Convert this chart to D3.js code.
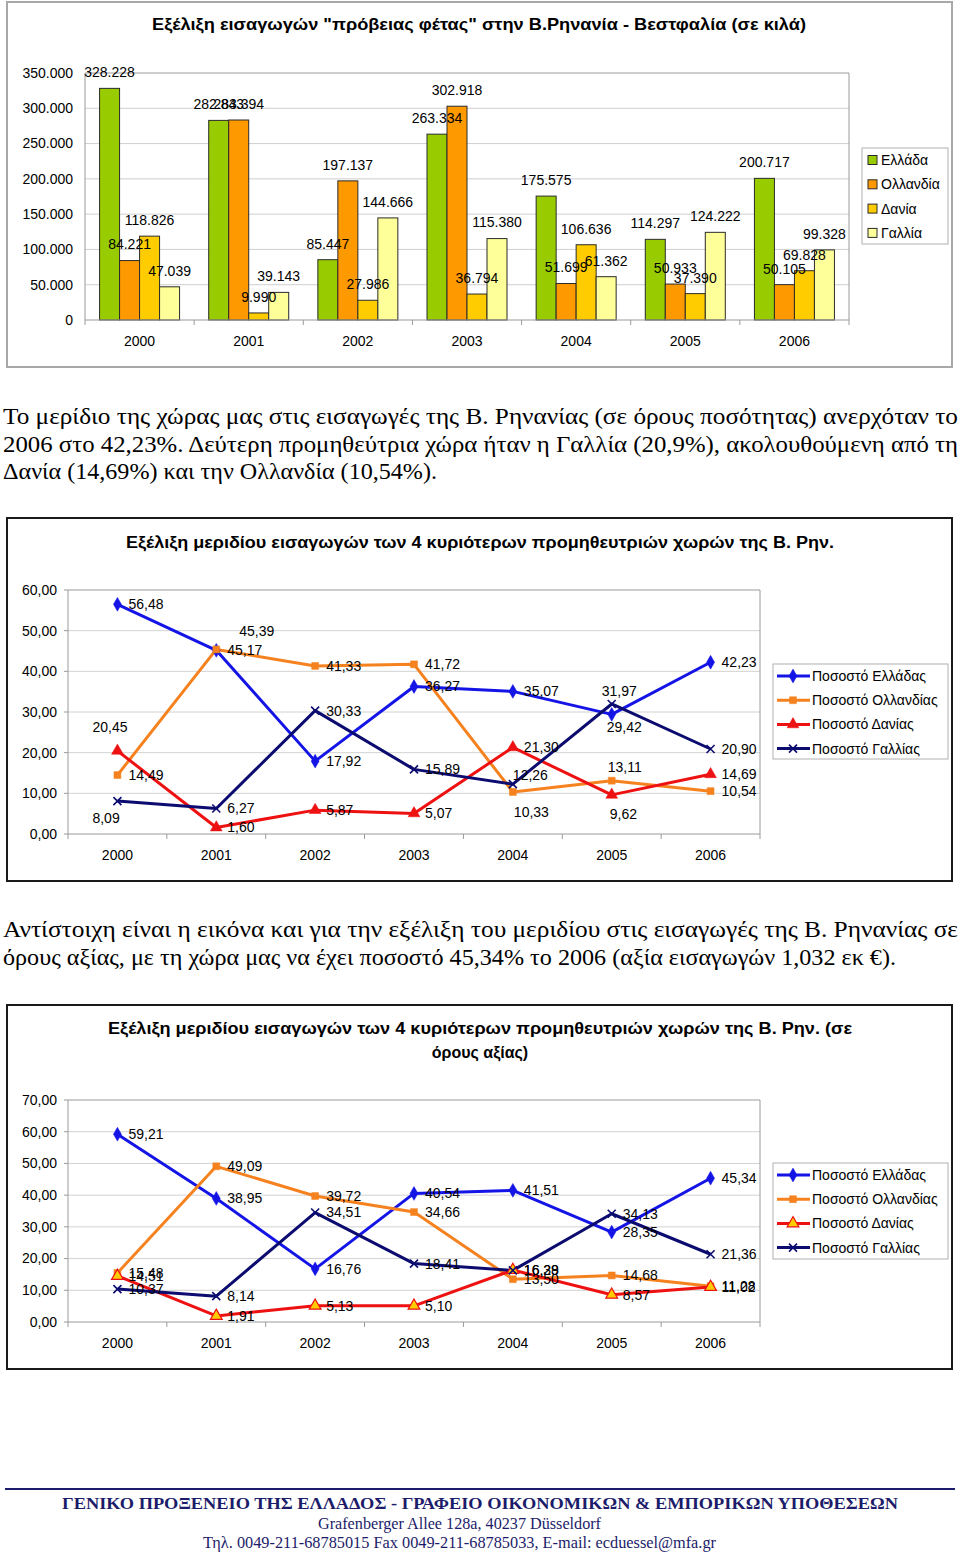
<!DOCTYPE html>
<html><head><meta charset="utf-8">
<script src="https://cdn.jsdelivr.net/npm/d3@7"></script>
<style>body{margin:0;background:#fff}svg{display:block}</style>
</head><body>
<svg id="page" width="960" height="1557"></svg>
<script>
// ---------- DATA ----------
const years = ["2000","2001","2002","2003","2004","2005","2006"];

// Chart 1: imports in kg
const barSeries = ["Ελλάδα","Ολλανδία","Δανία","Γαλλία"];
const kgGreece      = [328228, 282843, 85447, 263334, 175575, 114297, 200717];
const kgNetherlands = [84221, 283394, 197137, 302918, 51699, 50933, 50105];
const kgDenmark     = [118826, 9990, 27986, 36794, 106636, 37390, 69828];
const kgFrance      = [47039, 39143, 144666, 115380, 61362, 124222, 99328];
const kgTicks = [0, 50000, 100000, 150000, 200000, 250000, 300000, 350000];

// Chart 2: share by quantity (%)
const lineSeries = ["Ποσοστό Ελλάδας","Ποσοστό Ολλανδίας","Ποσοστό Δανίας","Ποσοστό Γαλλίας"];
const qtyGreece      = [56.48, 45.17, 17.92, 36.27, 35.07, 29.42, 42.23];
const qtyNetherlands = [14.49, 45.39, 41.33, 41.72, 10.33, 13.11, 10.54];
const qtyDenmark     = [20.45, 1.60, 5.87, 5.07, 21.30, 9.62, 14.69];
const qtyFrance      = [8.09, 6.27, 30.33, 15.89, 12.26, 31.97, 20.90];
const qtyTicks = [0, 10, 20, 30, 40, 50, 60];

// Chart 3: share by value (%)
const valGreece      = [59.21, 38.95, 16.76, 40.54, 41.51, 28.35, 45.34];
const valNetherlands = [15.48, 49.09, 39.72, 34.66, 13.50, 14.68, 11.28];
const valDenmark     = [14.51, 1.91, 5.13, 5.10, 16.39, 8.57, 11.02];
const valFrance      = [10.37, 8.14, 34.51, 18.41, 16.28, 34.13, 21.36];
const valTicks = [0, 10, 20, 30, 40, 50, 60, 70];

// Texts
const title1 = "Εξέλιξη εισαγωγών \"πρόβειας φέτας\" στην Β.Ρηνανία - Βεστφαλία (σε κιλά)";
const title2 = "Εξέλιξη μεριδίου εισαγωγών των 4 κυριότερων προμηθευτριών χωρών της Β. Ρην.";
const title3 = ["Εξέλιξη μεριδίου εισαγωγών των 4 κυριότερων προμηθευτριών χωρών της Β. Ρην. (σε", "όρους αξίας)"];
const para1 = ["Το μερίδιο της χώρας μας στις εισαγωγές της Β. Ρηνανίας (σε όρους ποσότητας) ανερχόταν το",
  "2006 στο 42,23%. Δεύτερη προμηθεύτρια χώρα ήταν η Γαλλία (20,9%), ακολουθούμενη από τη",
  "Δανία (14,69%) και την Ολλανδία (10,54%)."];
const para2 = ["Αντίστοιχη είναι η εικόνα και για την εξέλιξη του μεριδίου στις εισαγωγές της Β. Ρηνανίας σε",
  "όρους αξίας, με τη χώρα μας να έχει ποσοστό 45,34% το 2006 (αξία εισαγωγών 1,032 εκ €)."];
const footer = ["ΓΕΝΙΚΟ ΠΡΟΞΕΝΕΙΟ ΤΗΣ ΕΛΛΑΔΟΣ - ΓΡΑΦΕΙΟ ΟΙΚΟΝΟΜΙΚΩΝ &  ΕΜΠΟΡΙΚΩΝ ΥΠΟΘΕΣΕΩΝ",
  "Grafenberger Allee 128a, 40237 Düsseldorf",
  "Τηλ. 0049-211-68785015  Fax 0049-211-68785033, E-mail: ecduessel@mfa.gr"];

// ---------- STYLE ----------
const SANS = "'Liberation Sans', Arial, sans-serif";
const SERIF = "'Liberation Serif', 'Times New Roman', serif";
const barColors = ["#99cc00", "#ff9900", "#ffcc00", "#ffff99"];
const lineColors = ["#1414e6", "#f5821f", "#ee1111", "#0c0c70"];
const loc = d3.formatLocale({decimal: ",", thousands: ".", grouping: [3], currency: ["", "€"]});
const fmtKg = loc.format(",d");
const fmtPct = loc.format(".2f");

const svg = d3.select("#page");

function fitText(sel, w) {
  sel.attr("textLength", w).attr("lengthAdjust", "spacingAndGlyphs");
}

// ---------- CHART 1 ----------
(function() {
  const g = svg.append("g");
  g.append("rect").attr("x", 7).attr("y", 2).attr("width", 945).attr("height", 365)
    .attr("fill", "#fff").attr("stroke", "#a8a8a8").attr("stroke-width", 2);
  const t = g.append("text").attr("x", 479).attr("y", 30).attr("text-anchor", "middle")
    .attr("font-family", SANS).attr("font-weight", "bold").attr("font-size", 17).text(title1);
  fitText(t, 654);

  const L = 85, R = 849, T = 73, B = 320;
  const x0 = d3.scaleBand().domain(years).range([L, R]);
  const inner = 80;
  const x1 = d3.scaleBand().domain(barSeries).range([0, inner]);
  const y = d3.scaleLinear().domain([0, 350000]).range([B, T]);
  const series = [kgGreece, kgNetherlands, kgDenmark, kgFrance];

  // gridlines
  g.selectAll(".grid").data(kgTicks.slice(1)).join("line")
    .attr("x1", L).attr("x2", R).attr("y1", d => y(d)).attr("y2", d => y(d))
    .attr("stroke", (d, i) => d === 350000 ? "#9a9a9a" : "#cfcfcf").attr("stroke-width", 1);
  g.append("line").attr("x1", R).attr("x2", R).attr("y1", T).attr("y2", B).attr("stroke", "#9a9a9a");
  g.append("line").attr("x1", L).attr("x2", L).attr("y1", T).attr("y2", B).attr("stroke", "#9a9a9a");

  // y axis labels
  g.selectAll(".yl").data(kgTicks).join("text")
    .attr("x", 73).attr("y", d => y(d)).attr("dy", "0.35em").attr("text-anchor", "end")
    .attr("font-family", SANS).attr("font-size", 14).text(d => fmtKg(d));

  // bars
  const off = (x0.bandwidth() - inner) / 2;
  series.forEach((vals, si) => {
    g.selectAll(".b" + si).data(vals).join("rect")
      .attr("x", (d, i) => x0(years[i]) + off + x1(barSeries[si]))
      .attr("width", x1.bandwidth())
      .attr("y", d => y(d)).attr("height", d => B - y(d))
      .attr("fill", barColors[si]).attr("stroke", "#2a2a2a").attr("stroke-width", 1);
  });
  series.forEach((vals, si) => {
    g.selectAll(".l" + si).data(vals).join("text")
      .attr("x", (d, i) => x0(years[i]) + off + x1(barSeries[si]) + x1.bandwidth() / 2)
      .attr("y", d => y(d) - 16).attr("dy", "0.35em").attr("text-anchor", "middle")
      .attr("font-family", SANS).attr("font-size", 14).text(d => fmtKg(d));
  });

  // x axis
  g.append("line").attr("x1", L).attr("x2", R).attr("y1", B).attr("y2", B).attr("stroke", "#9a9a9a");
  const bounds = years.map(d => x0(d)).concat([R]);
  g.selectAll(".xt").data(bounds).join("line")
    .attr("x1", d => d).attr("x2", d => d).attr("y1", B).attr("y2", B + 5).attr("stroke", "#9a9a9a");
  g.selectAll(".xl").data(years).join("text")
    .attr("x", d => x0(d) + x0.bandwidth() / 2).attr("y", 341).attr("dy", "0.35em")
    .attr("text-anchor", "middle").attr("font-family", SANS).attr("font-size", 14).text(d => d);

  // legend
  g.append("rect").attr("x", 862).attr("y", 148).attr("width", 86).attr("height", 96)
    .attr("fill", "#fff").attr("stroke", "#b0b0b0");
  barSeries.forEach((s, i) => {
    const yy = 160 + i * 24.3;
    g.append("rect").attr("x", 868).attr("y", yy - 4.5).attr("width", 9).attr("height", 9)
      .attr("fill", barColors[i]).attr("stroke", "#2a2a2a");
    g.append("text").attr("x", 881).attr("y", yy).attr("dy", "0.35em")
      .attr("font-family", SANS).attr("font-size", 14).text(s);
  });
})();

// ---------- LINE CHART ----------
function marker(type, color, fill) {
  if (type === "x") return {d: "M-4,-4L4,4M-4,4L4,-4", fill: "none", stroke: color, sw: 1.6};
  const sym = {diamond: d3.symbolDiamond, square: d3.symbolSquare, triangle: d3.symbolTriangle}[type];
  const size = {diamond: 55, square: 48, triangle: 60}[type];
  return {d: d3.symbol(sym, size)(), fill: fill || color, stroke: color, sw: fill ? 1.2 : 0.5};
}

function lineChart(o) {
  const g = svg.append("g");
  g.append("rect").attr("x", o.box[0]).attr("y", o.box[1]).attr("width", o.box[2]).attr("height", o.box[3])
    .attr("fill", "#fff").attr("stroke", "#1a1a1a").attr("stroke-width", 2);
  o.titles.forEach((tt, i) => {
    const t = g.append("text").attr("x", 480).attr("y", o.titleY[i]).attr("text-anchor", "middle")
      .attr("font-family", SANS).attr("font-weight", "bold").attr("font-size", 16).text(tt);
    if (o.titleW[i]) fitText(t, o.titleW[i]);
  });
  const L = 68, R = 760, T = o.top, B = o.bottom;
  const x = d3.scaleBand().domain(years).range([L, R]);
  const cx = d => x(d) + x.bandwidth() / 2;
  const y = d3.scaleLinear().domain([0, o.ticks[o.ticks.length - 1]]).range([B, T]);

  g.selectAll(".grid").data(o.ticks.slice(1)).join("line")
    .attr("x1", L).attr("x2", R).attr("y1", d => y(d)).attr("y2", d => y(d))
    .attr("stroke", (d, i) => i === o.ticks.length - 2 ? "#9a9a9a" : "#d2d2d2");
  g.append("line").attr("x1", R).attr("x2", R).attr("y1", T).attr("y2", B).attr("stroke", "#9a9a9a");
  g.append("line").attr("x1", L).attr("x2", L).attr("y1", T).attr("y2", B).attr("stroke", "#9a9a9a");
  g.append("line").attr("x1", L).attr("x2", R).attr("y1", B).attr("y2", B).attr("stroke", "#9a9a9a");
  const bounds = years.map(d => x(d)).concat([R]);
  g.selectAll(".xt").data(bounds).join("line")
    .attr("x1", d => d).attr("x2", d => d).attr("y1", B).attr("y2", B + 5).attr("stroke", "#9a9a9a");
  g.selectAll(".yt").data(o.ticks).join("line")
    .attr("x1", L - 4).attr("x2", L).attr("y1", d => y(d)).attr("y2", d => y(d)).attr("stroke", "#9a9a9a");
  g.selectAll(".yl").data(o.ticks).join("text")
    .attr("x", 57).attr("y", d => y(d)).attr("dy", "0.35em").attr("text-anchor", "end")
    .attr("font-family", SANS).attr("font-size", 14).text(d => fmtPct(d));
  g.selectAll(".xl").data(years).join("text")
    .attr("x", d => cx(d)).attr("y", B + 21).attr("dy", "0.35em").attr("text-anchor", "middle")
    .attr("font-family", SANS).attr("font-size", 14).text(d => d);

  const line = d3.line().x((d, i) => cx(years[i])).y(d => y(d));
  o.series.forEach((vals, si) => {
    g.append("path").attr("d", line(vals)).attr("fill", "none")
      .attr("stroke", lineColors[si]).attr("stroke-width", 3).attr("stroke-linejoin", "round");
  });
  o.series.forEach((vals, si) => {
    const m = marker(o.markers[si], lineColors[si], o.markerFill[si]);
    g.selectAll(".m" + si).data(vals).join("path")
      .attr("transform", (d, i) => `translate(${cx(years[i])},${y(d)})`)
      .attr("d", m.d).attr("fill", m.fill).attr("stroke", m.stroke).attr("stroke-width", m.sw);
  });
  o.series.forEach((vals, si) => {
    g.selectAll(".t" + si).data(vals).join("text")
      .attr("x", (d, i) => cx(years[i]) + ((o.shift[si + "|" + i] || [11, 0])[0]))
      .attr("y", (d, i) => y(d) + ((o.shift[si + "|" + i] || [11, 0])[1]))
      .attr("dy", "0.35em").attr("font-family", SANS).attr("font-size", 14).text(d => fmtPct(d));
  });

  // legend
  const lb = o.legend;
  g.append("rect").attr("x", lb[0]).attr("y", lb[1]).attr("width", lb[2]).attr("height", lb[3])
    .attr("fill", "#fff").attr("stroke", "#b0b0b0");
  lineSeries.forEach((s, i) => {
    const yy = lb[1] + 12 + i * 24.2;
    g.append("line").attr("x1", 777).attr("x2", 810).attr("y1", yy).attr("y2", yy)
      .attr("stroke", lineColors[i]).attr("stroke-width", 3);
    const m = marker(o.markers[i], lineColors[i], o.markerFill[i]);
    g.append("path").attr("transform", `translate(793,${yy})`).attr("d", m.d)
      .attr("fill", m.fill).attr("stroke", m.stroke).attr("stroke-width", m.sw);
    g.append("text").attr("x", 812).attr("y", yy).attr("dy", "0.35em")
      .attr("font-family", SANS).attr("font-size", 14).text(s);
  });
}

lineChart({
  box: [7, 518, 945, 363],
  titles: [title2], titleY: [548], titleW: [708],
  top: 590, bottom: 834, ticks: qtyTicks,
  series: [qtyGreece, qtyNetherlands, qtyDenmark, qtyFrance],
  markers: ["diamond", "square", "triangle", "x"], markerFill: [null, null, null, null],
  shift: {"1|1": [23, -18], "0|5": [-5, 13], "1|4": [1, 20], "1|5": [-4, -14],
          "2|0": [-25, -24], "2|5": [-2, 19], "3|0": [-25, 17], "3|4": [0, -9], "3|5": [-10, -13]},
  legend: [773, 664, 175, 95]
});

lineChart({
  box: [7, 1005, 945, 364],
  titles: title3, titleY: [1034, 1058], titleW: [744, null],
  top: 1100, bottom: 1322, ticks: valTicks,
  series: [valGreece, valNetherlands, valDenmark, valFrance],
  markers: ["diamond", "square", "triangle", "x"], markerFill: [null, null, "#ffcc00", null],
  shift: {},
  legend: [773, 1163, 175, 96]
});

// ---------- PARAGRAPHS ----------
function para(lines, ys, widths, size) {
  lines.forEach((l, i) => {
    const t = svg.append("text").attr("x", 3).attr("y", ys[i]).attr("font-family", SERIF)
      .attr("font-size", size).text(l);
    fitText(t, widths[i]);
  });
}
para(para1, [424, 452, 479], [955, 955, 434], 23);
para(para2, [937, 965], [955, 893], 23);

// ---------- FOOTER ----------
svg.append("line").attr("x1", 5).attr("x2", 955).attr("y1", 1489).attr("y2", 1489)
  .attr("stroke", "#1c1c6a").attr("stroke-width", 2);
const fy = [1509, 1529, 1548], fx = [62, 318, 203], fw = [836, 283, 513];
footer.forEach((l, i) => {
  const t = svg.append("text").attr("x", fx[i]).attr("y", fy[i]).attr("font-family", SERIF)
    .attr("font-size", i === 0 ? 17 : 16).attr("font-weight", i === 0 ? "bold" : "normal")
    .attr("fill", "#1c1c6a").text(l);
  fitText(t, fw[i]);
});
</script>
</body></html>
